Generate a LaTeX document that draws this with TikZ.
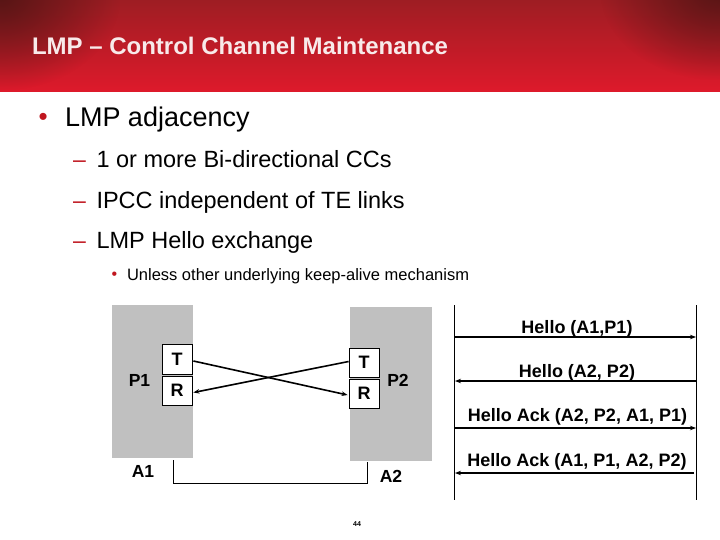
\documentclass[tikz,border=0pt]{standalone}
\usepackage{fontspec}
\setmainfont{Liberation Sans}
\usetikzlibrary{arrows.meta,calc,fadings}
\definecolor{hdrA}{HTML}{DE1A2B}
\definecolor{hdrM}{HTML}{C91B25}
\definecolor{hdrB}{HTML}{9E1D23}
\definecolor{hdrC}{HTML}{561515}
\definecolor{bulred}{HTML}{C0161F}
\definecolor{boxgray}{HTML}{C0C0C0}
\definecolor{titlewhite}{HTML}{F8EAEA}
\tikzfading[name=cornerfade, inner color=transparent!0, outer color=transparent!100]
\newcommand{\fs}[1]{\fontsize{#1}{#1}\selectfont}
\tikzset{
  txt/.style={anchor=base west, inner sep=0pt, outer sep=0pt},
  gbox/.style={fill=boxgray, draw=none, inner sep=0pt},
  trbox/.style={draw=black, line width=0.8pt, fill=white, minimum width=30pt, minimum height=29pt, inner sep=0pt, font=\fs{18}\bfseries},
  lbl/.style={inner sep=0pt, font=\fs{17.5}\bfseries},
  msglbl/.style={anchor=base, inner sep=0pt, font=\fs{18}\bfseries},
  xarrow/.style={line width=1.6pt, -{Stealth[length=6pt,width=4.5pt]}},
  msg/.style={line width=1.6pt, -{Stealth[length=6pt,width=4.5pt]}},
  lifeline/.style={line width=0.8pt},
}
\begin{document}
\begin{tikzpicture}[x=1pt,y=-1pt]
\useasboundingbox (0,0) rectangle (720,540);
\fill[white] (0,0) rectangle (720,540);
% header
\begin{scope}
\clip (0,0) rectangle (720,92);
\shade[top color=hdrB, middle color=hdrM, bottom color=hdrA] (0,0) rectangle (720,92);
\fill[hdrC, path fading=cornerfade] (-120,-100) rectangle (120,90);
\fill[hdrC, path fading=cornerfade] (600,-100) rectangle (840,80);
\end{scope}
\node[txt, text=titlewhite, font=\fs{24}\bfseries] (title) at (32,55) {LMP – Control Channel Maintenance};
% bullets
\node[txt, text=bulred, font=\fs{26}] (b1) at (38.5,126) {•};
\node[txt, font=\fs{27}] (t1) at (65,127) {LMP adjacency};
\node[txt, text=bulred, font=\fs{23}] (d1) at (73,168) {–};
\node[txt, font=\fs{23.5}] (t2) at (96.5,168) {1 or more Bi-directional CCs};
\node[txt, text=bulred, font=\fs{23}] (d2) at (73,208.5) {–};
\node[txt, font=\fs{23.5}] (t3) at (96.5,208.5) {IPCC independent of TE links};
\node[txt, text=bulred, font=\fs{23}] (d3) at (73,248.5) {–};
\node[txt, font=\fs{23.5}] (t4) at (96.5,248.5) {LMP Hello exchange};
\node[txt, text=bulred, font=\fs{16}] (b2) at (111.5,279) {•};
\node[txt, font=\fs{16.5}] (t5) at (127,280) {Unless other underlying keep-alive mechanism};
% diagram left
\node[gbox, minimum width=81pt, minimum height=153pt] (g1) at (152.5,381.5) {};
\node[gbox, minimum width=82pt, minimum height=154pt] (g2) at (391,384) {};
\node[trbox, minimum height=30pt] (T1) at (177,359) {T};
\node[trbox] (R1) at (177,390.5) {R};
\node[trbox] (T2) at (364,362.5) {T};
\node[trbox] (R2) at (364,393.5) {R};
\node[lbl] (P1) at (139.5,380) {P1};
\node[lbl] (P2) at (398,380.5) {P2};
\node[lbl] (A1) at (143,471) {A1};
\node[lbl] (A2) at (391,476) {A2};
\draw[xarrow] ($(T1.east)+(1,2)$) -- ($(R2.west)+(-1,1.5)$);
\draw[xarrow] ($(T2.west)+(0,-1)$) -- ($(R1.east)+(1,2)$);
\coordinate (k1) at (173,460);
\coordinate (k2) at (173,483);
\coordinate (k3) at (367,483);
\coordinate (k4) at (367,462);
\draw[line width=0.8pt] (k1) -- (k2) -- (k3) -- (k4);
% sequence
\coordinate (La) at (454.5,305);
\coordinate (Lb) at (454.5,500);
\coordinate (Ra) at (696.5,305);
\coordinate (Rb) at (696.5,500);
\draw[lifeline] (La) -- (Lb);
\draw[lifeline] (Ra) -- (Rb);
\coordinate (m1a) at (455,337);   \coordinate (m1b) at (696,337);
\coordinate (m2a) at (696,381);   \coordinate (m2b) at (455,381);
\coordinate (m3a) at (455,428);   \coordinate (m3b) at (696,428);
\coordinate (m4a) at (694,473);   \coordinate (m4b) at (455,473);
\draw[msg] (m1a) -- (m1b);
\draw[msg] (m2a) -- (m2b);
\draw[msg] (m3a) -- (m3b);
\draw[msg] (m4a) -- (m4b);
\node[msglbl] (h1) at (577,333) {Hello (A1,P1)};
\node[msglbl] (h2) at (577,377) {Hello (A2, P2)};
\node[msglbl] (h3) at (577.5,421.5) {Hello Ack (A2, P2, A1, P1)};
\node[msglbl] (h4) at (577,466.5) {Hello Ack (A1, P1, A2, P2)};
% page number
\node[inner sep=0pt, font=\fs{7}\bfseries] (pg) at (357,524) {44};
\end{tikzpicture}
\end{document}
